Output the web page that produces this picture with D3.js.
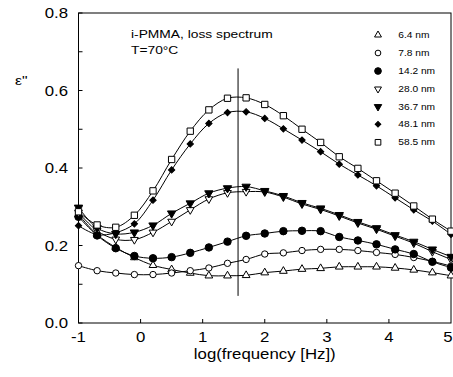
<!DOCTYPE html>
<html>
<head>
<meta charset="utf-8">
<script src="https://cdn.jsdelivr.net/npm/d3@7"></script>
<style>
  body { margin: 0; background: #fff; }
  text { font-family: "Liberation Sans", Arial, sans-serif; fill: #000; }
</style>
</head>
<body>
<div id="chart"></div>
<script>
/* loss spectrum of i-PMMA films, eps'' vs log f */

const width = 453,
    height = 377,
    margin = ({ top: 13, right: 2, bottom: 54, left: 78.5 });

// x positions of the measured points (log10 of frequency)
const logf = [-1.0, -0.7, -0.4, -0.1, 0.2, 0.5, 0.8, 1.1, 1.4, 1.7, 2.0,
              2.3, 2.6, 2.9, 3.2, 3.5, 3.8, 4.1, 4.4, 4.7, 5.0];

// eps'' for each film thickness
const eps_6_4  = [0.280, 0.228, 0.195, 0.169, 0.149, 0.138, 0.129, 0.122, 0.122, 0.123, 0.130,
                  0.134, 0.139, 0.141, 0.145, 0.145, 0.145, 0.142, 0.137, 0.130, 0.122];
const eps_7_8  = [0.148, 0.135, 0.129, 0.125, 0.125, 0.129, 0.135, 0.142, 0.154, 0.164, 0.178,
                  0.181, 0.187, 0.190, 0.190, 0.187, 0.182, 0.177, 0.169, 0.159, 0.147];
const eps_14_2 = [0.274, 0.226, 0.193, 0.173, 0.167, 0.170, 0.181, 0.195, 0.210, 0.225, 0.231,
                  0.237, 0.238, 0.237, 0.222, 0.213, 0.203, 0.190, 0.178, 0.158, 0.143];
const eps_28_0 = [0.285, 0.238, 0.216, 0.215, 0.234, 0.262, 0.292, 0.320, 0.336, 0.339, 0.338,
                  0.325, 0.307, 0.293, 0.276, 0.258, 0.242, 0.224, 0.206, 0.184, 0.164];
const eps_36_7 = [0.298, 0.245, 0.230, 0.234, 0.252, 0.283, 0.309, 0.335, 0.348, 0.352, 0.341,
                  0.328, 0.310, 0.296, 0.279, 0.261, 0.245, 0.227, 0.210, 0.190, 0.171];
const eps_48_1 = [0.251, 0.228, 0.233, 0.256, 0.317, 0.395, 0.462, 0.515, 0.543, 0.545, 0.528,
                  0.501, 0.472, 0.442, 0.410, 0.382, 0.354, 0.323, 0.292, 0.263, 0.229];
const eps_58_5 = [0.287, 0.253, 0.247, 0.278, 0.341, 0.422, 0.495, 0.550, 0.580, 0.581, 0.564,
                  0.535, 0.500, 0.466, 0.429, 0.399, 0.367, 0.335, 0.302, 0.268, 0.237];

const labels = ["6.4 nm", "7.8 nm", "14.2 nm", "28.0 nm", "36.7 nm", "48.1 nm", "58.5 nm"];
const seriesValues = [eps_6_4, eps_7_8, eps_14_2, eps_28_0, eps_36_7, eps_48_1, eps_58_5];

const yTicks = [0.0, 0.2, 0.4, 0.6, 0.8];
const yMinorTicks = [0.1, 0.3, 0.5, 0.7];
const xTicks = [-1, 0, 1, 2, 3, 4, 5];

// vertical marker line
const markerLogf = 1.57;
const markerRange = [0.07, 0.657];

// symbol style per series (same order as labels)
const symbols = [
  { type: d3.symbolTriangle, size: 26, fill: "#fff", rot: 0 },
  { type: d3.symbolCircle,   size: 32, fill: "#fff", rot: 0 },
  { type: d3.symbolCircle,   size: 44, fill: "#000", rot: 0 },
  { type: d3.symbolTriangle, size: 26, fill: "#fff", rot: 180 },
  { type: d3.symbolTriangle, size: 30, fill: "#000", rot: 180 },
  { type: d3.symbolSquare,   size: 20, fill: "#000", rot: 45 },   // diamond
  { type: d3.symbolSquare,   size: 40, fill: "#fff", rot: 0 }
];

const stretch = 1.2; // text in the original is wider than tall

const svg = d3.select("#chart")
  .append("svg")
  .attr("width", width)
  .attr("height", height)
  .attr("viewBox", [0, 0, width, height]);

let x = d3.scaleLinear()
  .domain([-1, 5])
  .range([margin.left, width - margin.right]);

let y = d3.scaleLinear()
  .domain([0, 0.8])
  .range([height - margin.bottom, margin.top]);

function label(sel, px, py, str, size, anchor) {
  return sel.append("text")
    .attr("transform", `translate(${px},${py}) scale(${stretch},1)`)
    .attr("font-size", size)
    .attr("text-anchor", anchor || "start")
    .text(str);
}

// frame
svg.append("rect")
  .attr("x", x(-1))
  .attr("y", y(0.8))
  .attr("width", x(5) - x(-1))
  .attr("height", y(0) - y(0.8))
  .attr("fill", "none")
  .attr("stroke", "#000")
  .attr("stroke-width", 1);

// inward ticks
svg.append("g")
  .selectAll("line")
  .data(yTicks.concat(yMinorTicks))
  .join("line")
  .attr("x1", x(-1)).attr("x2", x(-1) + 4)
  .attr("y1", d => y(d)).attr("y2", d => y(d))
  .attr("stroke", "#000");

svg.append("g")
  .selectAll("line")
  .data(xTicks.slice(1, -1))
  .join("line")
  .attr("x1", d => x(d)).attr("x2", d => x(d))
  .attr("y1", y(0)).attr("y2", y(0) - 4)
  .attr("stroke", "#000");

// tick labels
yTicks.forEach(v => label(svg, 68, y(v) + 5, d3.format(".1f")(v), 14, "end"));
xTicks.forEach(v => {
  if (v === 5) label(svg, width - 0.5, 341.5, String(v), 14, "end"); // keep inside the page
  else label(svg, x(v), 341.5, String(v), 14, "middle");
});

// axis titles
label(svg, x(2), 359, "log(frequency [Hz])", 14, "middle");
label(svg, 15, 85, "ε\"", 13, "start");

// annotation
label(svg, 131, 38.3, "i-PMMA, loss spectrum", 11.5);
label(svg, 131, 54, "T=70°C", 11.5);

// marker line
svg.append("line")
  .attr("x1", x(markerLogf)).attr("x2", x(markerLogf))
  .attr("y1", y(markerRange[0])).attr("y2", y(markerRange[1]))
  .attr("stroke", "#000");

let line = d3.line()
  .x((d, i) => x(logf[i]))
  .y(d => y(d))
  .curve(d3.curveCatmullRom.alpha(0.5));

svg.append("g")
  .selectAll("path")
  .data(seriesValues)
  .join("path")
  .attr("d", line)
  .attr("fill", "none")
  .attr("stroke", "#000")
  .attr("stroke-width", 1);

// points
seriesValues.forEach((vals, s) => {
  const sym = symbols[s];
  svg.append("g")
    .selectAll("path")
    .data(vals)
    .join("path")
    .attr("transform", (d, i) => `translate(${x(logf[i])},${y(d)}) rotate(${sym.rot})`)
    .attr("d", d3.symbol(sym.type, sym.size))
    .attr("fill", sym.fill)
    .attr("stroke", "#000")
    .attr("stroke-width", 1);
});

// legend
const legendY = [35, 53, 71, 89, 106.7, 124.3, 142.3];
labels.forEach((lab, s) => {
  const sym = symbols[s];
  svg.append("path")
    .attr("transform", `translate(378,${legendY[s]}) rotate(${sym.rot})`)
    .attr("d", d3.symbol(sym.type, sym.size * 0.8))
    .attr("fill", sym.fill)
    .attr("stroke", "#000");
  label(svg, 398.3, legendY[s] + 3, lab, 8.5);
});
</script>
</body>
</html>
